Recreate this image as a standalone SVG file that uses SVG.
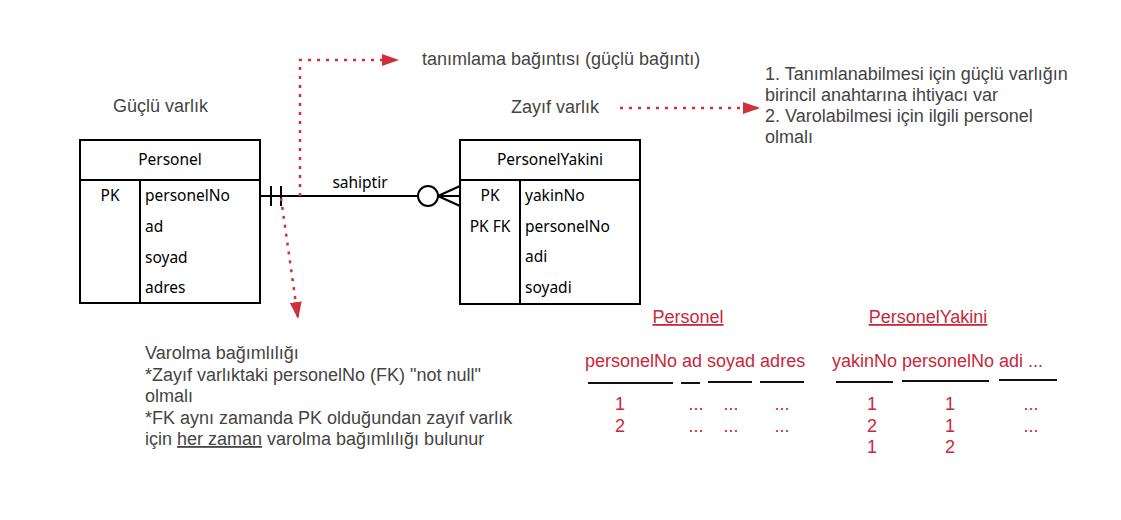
<svg xmlns="http://www.w3.org/2000/svg" width="1121" height="520" viewBox="0 0 1121 520">
<style>
.ent{fill:#fff;stroke:#000;stroke-width:2}
.ln{stroke:#000;stroke-width:2;fill:none}
.et{font-family:"Noto Sans","DejaVu Sans",sans-serif;font-size:15.5px;fill:#000}
.nt{font-family:"Liberation Sans",Arial,sans-serif;font-size:18px;fill:#444}
.rt{font-family:"Liberation Sans",Arial,sans-serif;font-size:18px;fill:#c8283a}
.red{stroke:#d0303e;stroke-width:2.5;stroke-dasharray:3 6;fill:none}
.ul{stroke:#111;stroke-width:2}
</style>
<defs>
<marker id="ah" markerWidth="18" markerHeight="14" refX="16" refY="6" orient="auto" markerUnits="userSpaceOnUse">
<path d="M0,0 L17,6 L0,12 Z" fill="#d0303e"/>
</marker>
</defs>
<rect width="1121" height="520" fill="#fff"/>

<g id="connectors">
<line class="ln" x1="260" y1="196" x2="418" y2="196"/>
<line class="ln" x1="271" y1="186" x2="271" y2="206"/>
<line class="ln" x1="281" y1="186" x2="281" y2="206"/>
<circle class="ln" cx="428" cy="196" r="10"/>
<line class="ln" x1="438" y1="196" x2="460" y2="196"/>
<line class="ln" x1="438" y1="196" x2="460" y2="186"/>
<line class="ln" x1="438" y1="196" x2="460" y2="206"/>
<text class="et" x="360" y="188" text-anchor="middle">sahiptir</text>
<polyline class="red" points="300,196 300,60 398,60" marker-end="url(#ah)"/>
<line class="red" x1="281" y1="198" x2="298" y2="318" marker-end="url(#ah)"/>
<line class="red" x1="620" y1="108" x2="759" y2="108" marker-end="url(#ah)"/>
</g>

<g id="personel">
<rect class="ent" x="80" y="140" width="180" height="163"/>
<line class="ln" x1="80" y1="180" x2="260" y2="180"/>
<line class="ln" x1="140" y1="180" x2="140" y2="303"/>
<text class="et" x="170" y="165" text-anchor="middle">Personel</text>
<text class="et" x="110" y="201" text-anchor="middle">PK</text>
<text class="et" x="145" y="201">personelNo</text>
<text class="et" x="145" y="232">ad</text>
<text class="et" x="145" y="263">soyad</text>
<text class="et" x="145" y="293">adres</text>
</g>

<g id="personelyakini">
<rect class="ent" x="460" y="140" width="180" height="164"/>
<line class="ln" x1="460" y1="180" x2="640" y2="180"/>
<line class="ln" x1="520" y1="180" x2="520" y2="304"/>
<text class="et" x="550" y="165" text-anchor="middle">PersonelYakini</text>
<text class="et" x="490" y="201" text-anchor="middle">PK</text>
<text class="et" x="490" y="232" text-anchor="middle">PK FK</text>
<text class="et" x="525" y="201">yakinNo</text>
<text class="et" x="525" y="232">personelNo</text>
<text class="et" x="525" y="262">adi</text>
<text class="et" x="525" y="293">soyadi</text>
</g>

<g id="notes">
<text class="nt" x="113" y="112">Güçlü varlık</text>
<text class="nt" x="422" y="65">tanımlama bağıntısı (güçlü bağıntı)</text>
<text class="nt" x="511" y="113">Zayıf varlık</text>
<text class="nt" x="765" y="80">1. Tanımlanabilmesi için güçlü varlığın</text>
<text class="nt" x="765" y="101">birincil anahtarına ihtiyacı var</text>
<text class="nt" x="765" y="122">2. Varolabilmesi için ilgili personel</text>
<text class="nt" x="765" y="143">olmalı</text>
<text class="nt" x="145" y="359">Varolma bağımlılığı</text>
<text class="nt" x="145" y="381">*Zayıf varlıktaki personelNo (FK) "not null"</text>
<text class="nt" x="145" y="402">olmalı</text>
<text class="nt" x="145" y="424">*FK aynı zamanda PK olduğundan zayıf varlık</text>
<text class="nt" x="145" y="445">için <tspan text-decoration="underline">her zaman</tspan> varolma bağımlılığı bulunur</text>
</g>

<g id="table-personel">
<text class="rt" x="688" y="323" text-anchor="middle" text-decoration="underline">Personel</text>
<text class="rt" x="585" y="367">personelNo ad soyad adres</text>
<line class="ul" x1="588" y1="383" x2="673" y2="383"/>
<line class="ul" x1="681" y1="383" x2="700" y2="383"/>
<line class="ul" x1="708" y1="382" x2="752" y2="382"/>
<line class="ul" x1="760" y1="382" x2="804" y2="382"/>
<text class="rt" x="620" y="410" text-anchor="middle">1</text>
<text class="rt" x="620" y="432" text-anchor="middle">2</text>
<text class="rt" x="696" y="410" text-anchor="middle">...</text>
<text class="rt" x="731" y="410" text-anchor="middle">...</text>
<text class="rt" x="782" y="410" text-anchor="middle">...</text>
<text class="rt" x="696" y="432" text-anchor="middle">...</text>
<text class="rt" x="731" y="432" text-anchor="middle">...</text>
<text class="rt" x="782" y="432" text-anchor="middle">...</text>
</g>

<g id="table-personelyakini">
<text class="rt" x="928" y="323" text-anchor="middle" text-decoration="underline">PersonelYakini</text>
<text class="rt" x="832" y="367">yakinNo personelNo adi ...</text>
<line class="ul" x1="836" y1="382" x2="893" y2="382"/>
<line class="ul" x1="902" y1="381" x2="989" y2="381"/>
<line class="ul" x1="999" y1="380" x2="1057" y2="380"/>
<text class="rt" x="872" y="410" text-anchor="middle">1</text>
<text class="rt" x="872" y="432" text-anchor="middle">2</text>
<text class="rt" x="872" y="453" text-anchor="middle">1</text>
<text class="rt" x="950" y="410" text-anchor="middle">1</text>
<text class="rt" x="950" y="432" text-anchor="middle">1</text>
<text class="rt" x="950" y="453" text-anchor="middle">2</text>
<text class="rt" x="1031" y="410" text-anchor="middle">...</text>
<text class="rt" x="1031" y="432" text-anchor="middle">...</text>
</g>
</svg>
